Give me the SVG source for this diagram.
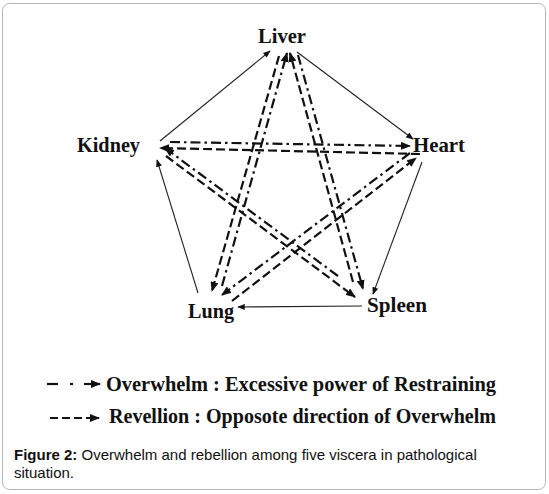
<svg xmlns="http://www.w3.org/2000/svg" width="549" height="494" viewBox="0 0 549 494">
<defs>
<marker id="ah" viewBox="0 0 10 8" refX="9" refY="4" markerWidth="10" markerHeight="8" markerUnits="userSpaceOnUse" orient="auto">
<path d="M0,0 L10,4 L0,8 Z" fill="#111"/>
</marker>
<marker id="ahs" viewBox="0 0 10 8" refX="9" refY="4" markerWidth="8" markerHeight="6" markerUnits="userSpaceOnUse" orient="auto">
<path d="M0,0 L10,4 L0,8 Z" fill="#111"/>
</marker>
<style>
.node text{font-family:"Liberation Serif","Times New Roman",serif;font-weight:bold;font-size:21px;fill:#111}
.solid{stroke:#222;stroke-width:1.1;fill:none;marker-end:url(#ahs)}
.dash{stroke:#111;stroke-width:2.2;fill:none;stroke-dasharray:9 4;marker-end:url(#ah)}
.dd{stroke:#111;stroke-width:2.2;fill:none;stroke-dasharray:10 4 2.5 4;marker-end:url(#ah)}
.leg{font-family:"Liberation Serif","Times New Roman",serif;font-weight:bold;font-size:22px;fill:#111}
.cap{font-family:"Liberation Sans",Arial,sans-serif;font-size:15px;fill:#111}
</style>
</defs>
<rect x="2.5" y="3.5" width="543" height="486" rx="7" fill="#fff" stroke="#b5b5b5" stroke-width="1"/>
<g id="connectors">
<line class="solid" x1="160" y1="141" x2="270" y2="51"/>
<line class="solid" x1="297" y1="52" x2="413" y2="139"/>
<line class="solid" x1="422" y1="162" x2="373" y2="294"/>
<line class="solid" x1="362" y1="306" x2="238" y2="307"/>
<line class="solid" x1="198" y1="293" x2="157" y2="160"/>
<line class="dd" x1="170" y1="142" x2="410" y2="146"/>
<line class="dash" x1="420" y1="154" x2="160" y2="148"/>
<line class="dash" x1="166" y1="156" x2="355" y2="297"/>
<line class="dd" x1="338" y1="276" x2="165" y2="148"/>
<line class="dd" x1="298" y1="55" x2="363" y2="289"/>
<line class="dash" x1="353" y1="282" x2="290" y2="53"/>
<line class="dash" x1="279" y1="56" x2="212" y2="291"/>
<line class="dd" x1="222" y1="286" x2="287" y2="53"/>
<line class="dd" x1="410" y1="153" x2="222" y2="295"/>
<line class="dash" x1="232" y1="301" x2="416" y2="158"/>
</g>
<g id="liver" class="node"><text x="258" y="43" textLength="48" lengthAdjust="spacingAndGlyphs">Liver</text></g>
<g id="heart" class="node"><text x="413" y="152" textLength="52" lengthAdjust="spacingAndGlyphs">Heart</text></g>
<g id="kidney" class="node"><text x="77" y="152" textLength="63" lengthAdjust="spacingAndGlyphs">Kidney</text></g>
<g id="lung" class="node"><text x="188" y="318" textLength="46" lengthAdjust="spacingAndGlyphs">Lung</text></g>
<g id="spleen" class="node"><text x="367" y="312" textLength="60" lengthAdjust="spacingAndGlyphs">Spleen</text></g>
<g id="legend">
<line x1="47" y1="384" x2="58" y2="384" stroke="#111" stroke-width="2.2"/>
<line x1="70" y1="384" x2="73" y2="384" stroke="#111" stroke-width="2.2"/>
<line x1="84" y1="384" x2="100" y2="384" stroke="#111" stroke-width="2.2" marker-end="url(#ah)"/>
<text class="leg" x="106" y="391" textLength="390" lengthAdjust="spacingAndGlyphs">Overwhelm : Excessive power of  Restraining</text>
<line x1="50" y1="418" x2="99" y2="418" stroke="#111" stroke-width="2.2" stroke-dasharray="8 4" marker-end="url(#ah)"/>
<text class="leg" x="109" y="423" textLength="387" lengthAdjust="spacingAndGlyphs">Revellion : Opposote direction  of Overwhelm</text>
</g>
<g id="caption">
<text class="cap" x="14" y="460"><tspan font-weight="bold">Figure 2:</tspan> Overwhelm and rebellion among five viscera in pathological</text>
<text class="cap" x="14" y="478">situation.</text>
</g>
</svg>
